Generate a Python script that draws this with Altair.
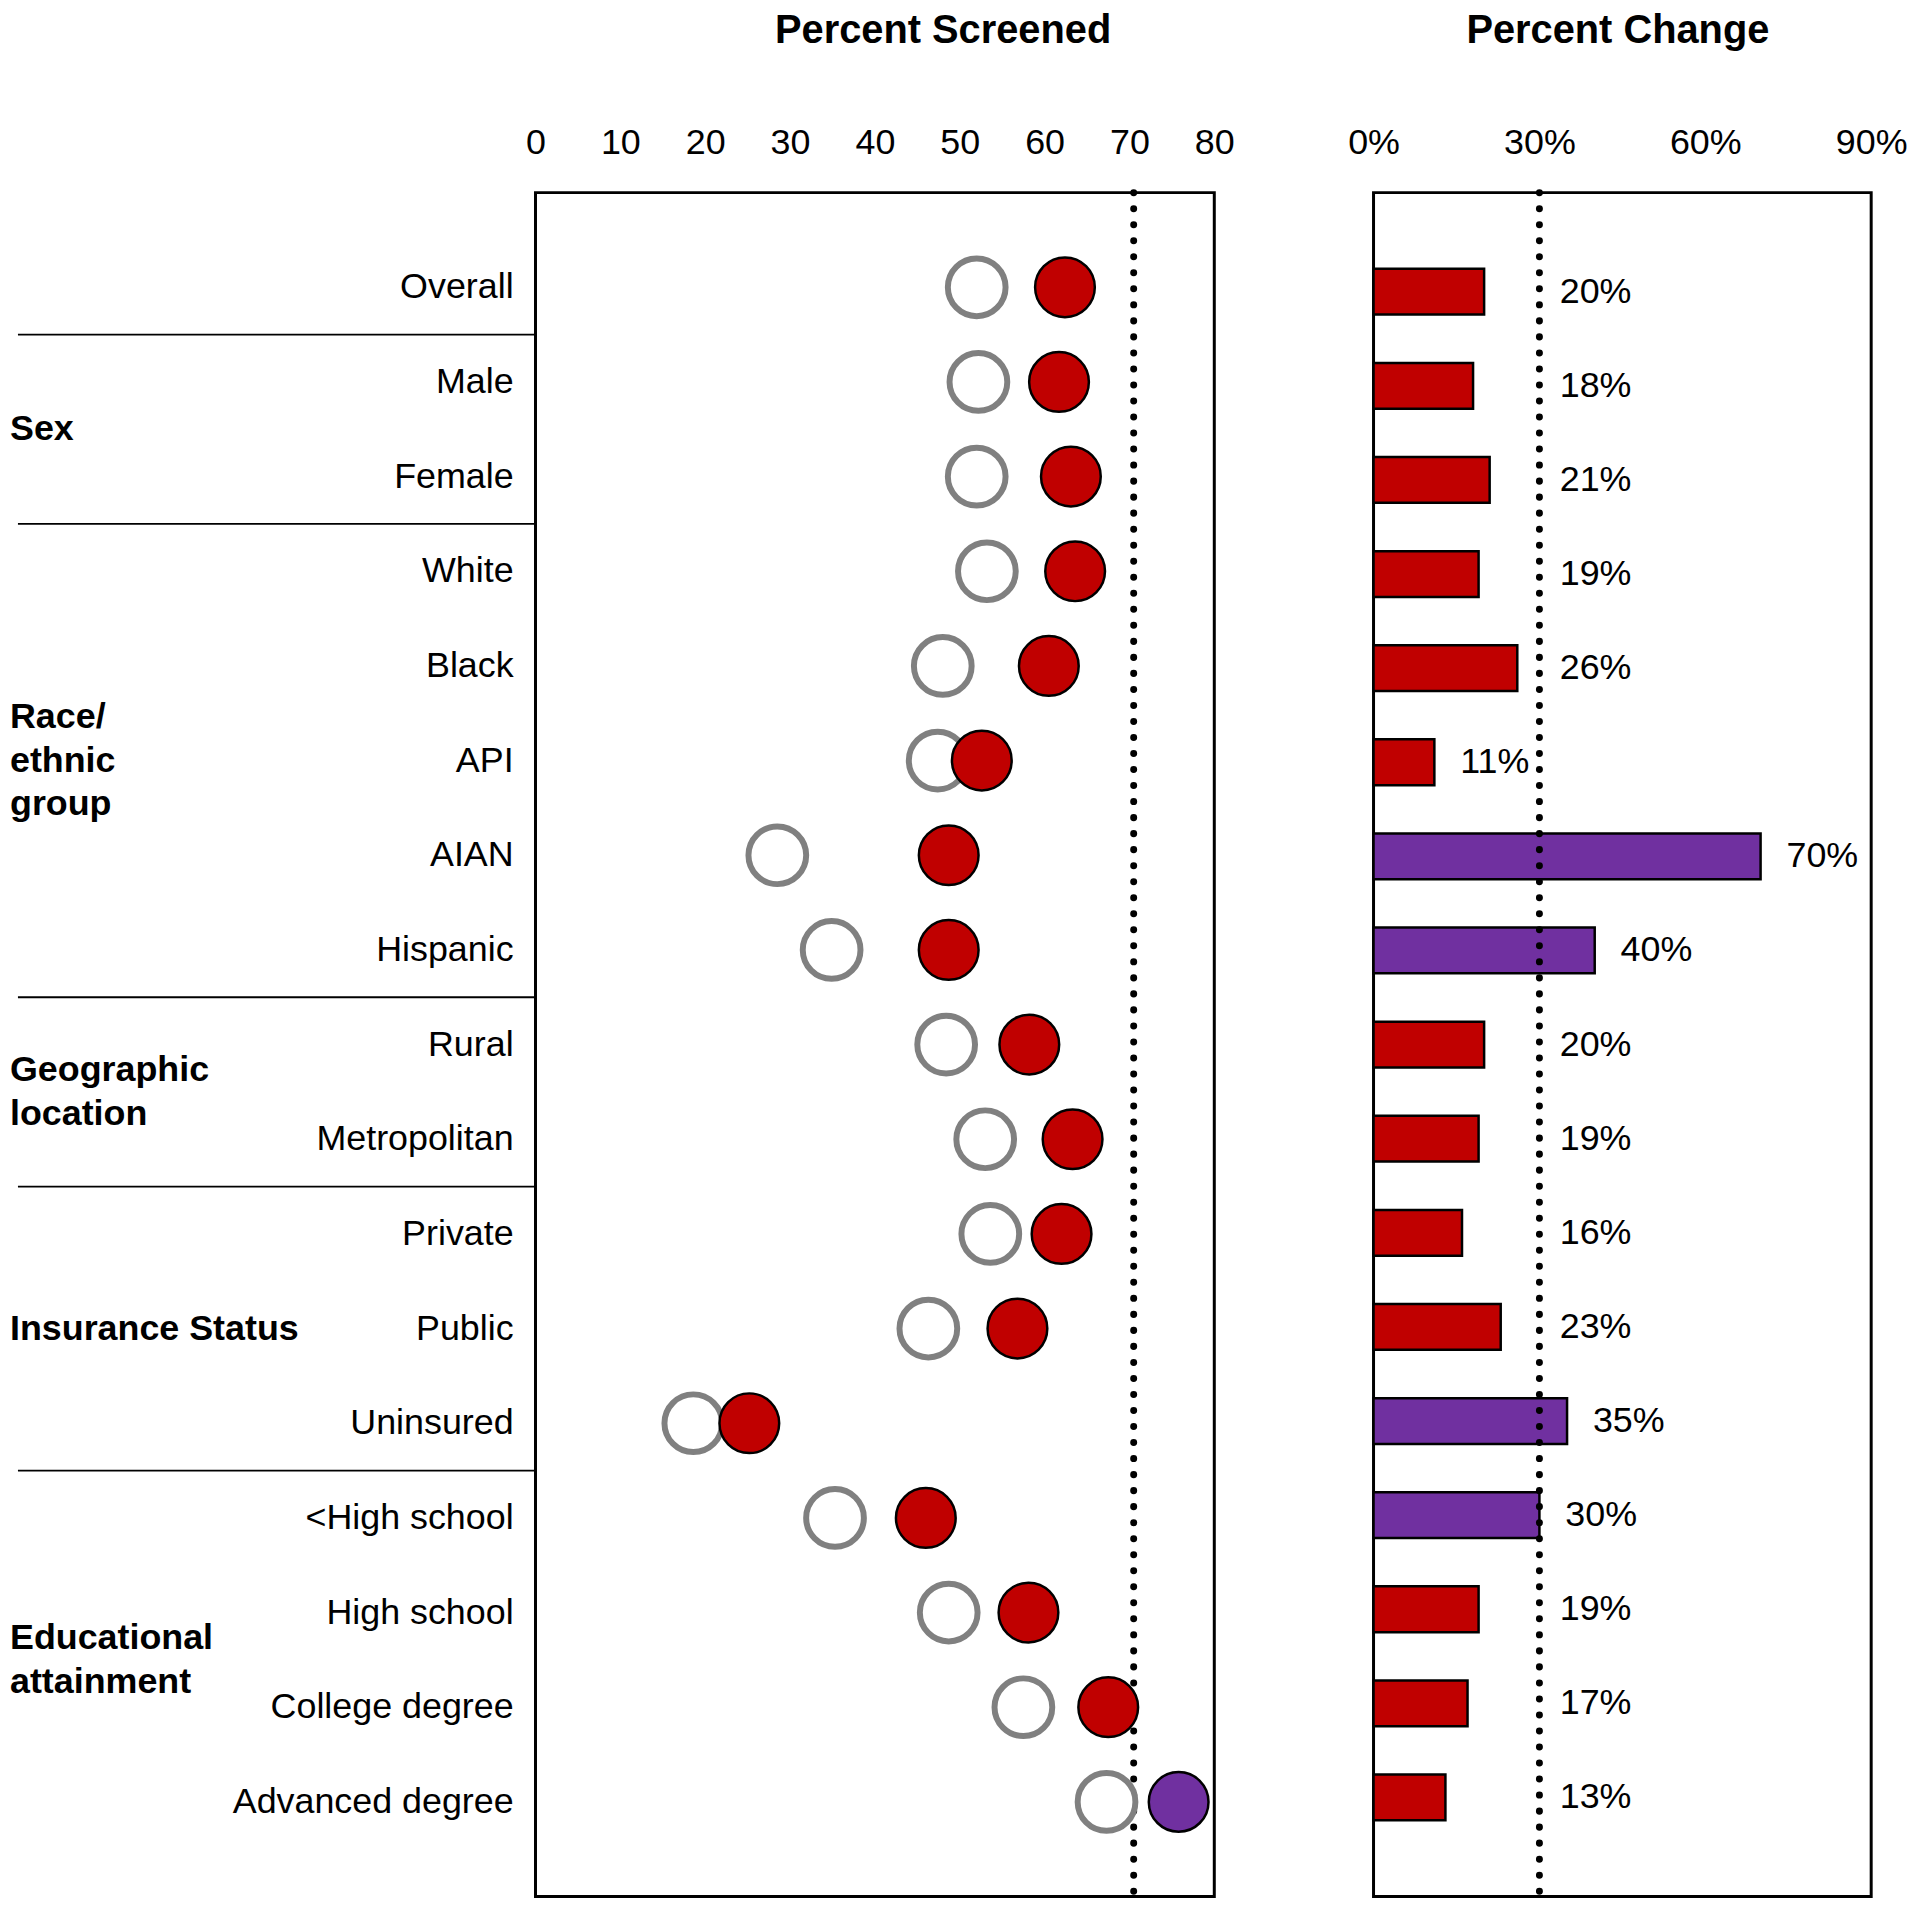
import altair as alt
import pandas as pd

FONT = "Liberation Sans"
RED = "#C00000"
PURPLE = "#7030A0"
GRAY = "#808080"

rows = ["Overall", "Male", "Female", "White", "Black", "API", "AIAN", "Hispanic",
        "Rural", "Metropolitan", "Private", "Public", "Uninsured",
        "<High school", "High school", "College degree", "Advanced degree"]
groups = ["", "Sex", "Sex",
          "Race/\nethnic\ngroup", "Race/\nethnic\ngroup", "Race/\nethnic\ngroup",
          "Race/\nethnic\ngroup", "Race/\nethnic\ngroup",
          "Geographic\nlocation", "Geographic\nlocation",
          "Insurance Status", "Insurance Status", "Insurance Status",
          "Educational\nattainment", "Educational\nattainment",
          "Educational\nattainment", "Educational\nattainment"]
screen_before = [52.0, 52.2, 52.0, 53.2, 48.0, 47.4, 28.5, 34.9,
                 48.4, 53.0, 53.6, 46.3, 18.6, 35.3, 48.7, 57.5, 67.3]
screen_after = [62.4, 61.7, 63.1, 63.6, 60.5, 52.6, 48.7, 48.7,
                58.2, 63.3, 62.0, 56.8, 25.2, 46.0, 58.1, 67.5, 75.8]
pct_change = [20, 18, 21, 19, 26, 11, 70, 40, 20, 19, 16, 23, 35, 30, 19, 17, 13]
screen_ticks = [0, 10, 20, 30, 40, 50, 60, 70, 80]
change_ticks = [0, 30, 60, 90]
TARGET_SCREEN = 70.5
TARGET_CHANGE = 30

PLOT_H = 1712
N = len(rows)
LINE_H = 44
LH_ROWS = LINE_H / (PLOT_H / (N + 1))

df = pd.DataFrame({
    "row": rows, "group": groups, "before": screen_before,
    "after": screen_after, "change": pct_change, "idx": list(range(N)),
})
seps = pd.DataFrame({"y": [i - 0.5 for i in range(1, N) if groups[i] != groups[i - 1]]})

yscale = alt.Scale(domain=[-1, N], reverse=True, nice=False, zero=False)
Y = alt.Y("idx:Q", scale=yscale, axis=None)

xs1 = alt.Scale(domain=[0, 80], nice=False, zero=False)
xs2 = alt.Scale(domain=[0, 90], nice=False, zero=False)

common_axis = dict(orient="top", labelFontSize=36, labelFont=FONT, labelColor="black",
                   ticks=False, tickSize=0, domain=False, grid=False, labelPadding=50,
                   labelBaseline="middle", labelAngle=0, labelFlush=False, labelOverlap=False,
                   titleFontSize=40, titleFont=FONT, titleFontWeight="bold", titleColor="black",
                   titleY=-163, titleBaseline="middle", titleAlign="center", titleAnchor="start")
axis1 = alt.Axis(values=screen_ticks, title="Percent Screened", titleX=409, **common_axis)
axis2 = alt.Axis(values=change_ticks, labelExpr="datum.value + '%'", title="Percent Change",
                 titleX=245, **common_axis)

frame = alt.ViewConfig(stroke="black", strokeWidth=3)
base = alt.Chart(df)

X1 = lambda f: alt.X(f, scale=xs1, axis=axis1)

target1 = alt.Chart(pd.DataFrame({"t": [TARGET_SCREEN]})).mark_rule(
    color="black", strokeWidth=7, strokeDash=[0.1, 16], strokeCap="round"
).encode(x=X1("t:Q"))

gray = base.mark_circle(size=3364, fill="white", stroke=GRAY, strokeWidth=6, opacity=1).encode(
    x=X1("before:Q"), y=Y)
red = base.mark_circle(size=3600, stroke="black", strokeWidth=2.5, opacity=1).encode(
    x=X1("after:Q"), y=Y,
    color=alt.condition(alt.datum.after > TARGET_SCREEN, alt.value(PURPLE), alt.value(RED)))

sep_rules = alt.Chart(seps).mark_rule(color="black", strokeWidth=1.8).encode(
    y=alt.Y("y:Q", scale=yscale, axis=None), x=alt.value(-520), x2=alt.value(0))

row_labels = base.mark_text(align="right", baseline="middle", fontSize=36, font=FONT,
                            color="black").encode(y=Y, text="row:N", x=alt.value(-22))

group_labels = base.transform_filter("datum.group != ''").transform_aggregate(
    gy="mean(idx)", groupby=["group"]
).transform_calculate(
    gy2=f"datum.gy - (length(split(datum.group, '\\n')) - 1) / 2 * {LH_ROWS}"
).mark_text(align="left", baseline="middle", fontSize=36, font=FONT, fontWeight="bold",
            color="black", lineBreak="\n", lineHeight=LINE_H).encode(
    y=alt.Y("gy2:Q", scale=yscale, axis=None), text="group:N", x=alt.value(-528))

left = alt.layer(target1, gray, red, sep_rules, row_labels, group_labels).properties(
    width=682, height=PLOT_H, view=frame)

X2 = lambda f: alt.X(f, scale=xs2, axis=axis2)

bars = base.transform_calculate(zero="0").mark_bar(
    height=46, stroke="black", strokeWidth=2.5
).encode(
    x=X2("zero:Q"), x2="change:Q", y=Y,
    color=alt.condition(alt.datum.change >= TARGET_CHANGE, alt.value(PURPLE), alt.value(RED)))

target2 = alt.Chart(pd.DataFrame({"t": [TARGET_CHANGE]})).mark_rule(
    color="black", strokeWidth=7, strokeDash=[0.1, 16], strokeCap="round"
).encode(x=X2("t:Q"))

bar_labels = base.transform_calculate(
    lx="datum.change < 12 ? datum.change : max(datum.change, 29)",
    lab="datum.change + '%'"
).mark_text(align="left", baseline="middle", dx=26, fontSize=36, font=FONT,
            color="black").encode(x=X2("lx:Q"), y=Y, text="lab:N")

right = alt.layer(bars, target2, bar_labels).properties(width=500, height=PLOT_H, view=frame)

chart = alt.hconcat(left, right, spacing=110).properties(
    padding={"top": -4, "left": 0, "right": 0, "bottom": 0}, background="white"
).configure_view(stroke="black", strokeWidth=3)

chart.save("out.html", embed_options={"renderer": "svg", "actions": False})
